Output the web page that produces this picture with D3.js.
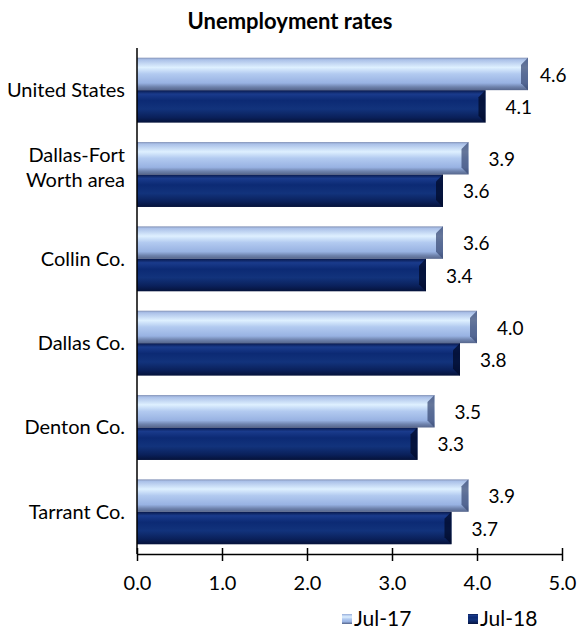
<!DOCTYPE html>
<html>
<head>
  <meta charset="utf-8">
  <title>Unemployment rates</title>
  <script src="https://cdn.jsdelivr.net/npm/d3@7"></script>
  <style>
    body { margin: 0; background: #fff; }
    text { font-family: Lato, "Open Sans", sans-serif; fill: #000; }
  </style>
</head>
<body>
  <div id="chart"></div>
  <script>
    const categories = [["United States"], ["Dallas-Fort", "Worth area"], ["Collin Co."], ["Dallas Co."], ["Denton Co."], ["Tarrant Co."]]
    const seriesNames = ["Jul-17", "Jul-18"]
    const jul17 = [4.6, 3.9, 3.6, 4.0, 3.5, 3.9]
    const jul18 = [4.1, 3.6, 3.4, 3.8, 3.3, 3.7]
    const xTicks = [0, 1, 2, 3, 4, 5]

    const width = 578
    const height = 630

    const svg = d3.select("#chart").append("svg")
      .attr("width", width)
      .attr("height", height)

    // gradients for the bevelled bars
    const defs = svg.append("defs")
    function addGrad(id, stops) {
      const g = defs.append("linearGradient").attr("id", id)
        .attr("x1", 0).attr("y1", 0).attr("x2", 0).attr("y2", 1)
      stops.forEach(s => g.append("stop").attr("offset", s[0]).attr("stop-color", s[1]))
    }
    addGrad("g17", [[0, "#8392b6"], [0.06, "#aac0e8"], [0.3, "#def0ff"], [0.5, "#b2caf0"], [0.78, "#98b2e2"], [0.9, "#6e82ac"], [1, "#56668c"]])
    addGrad("g18", [[0, "#08194c"], [0.12, "#1a3b8c"], [0.32, "#0c2a74"], [0.58, "#12337c"], [0.84, "#0a205a"], [1, "#05123a"]])

    const data = categories.map((c, i) => ({ i: i, label: c, values: [jul17[i], jul18[i]] }))

    const x = d3.scaleLinear().domain([0, 5]).range([137, 562])
    const y = d3.scaleBand().domain(d3.range(categories.length)).range([48, 554])
      .paddingInner(0.23).paddingOuter(0.115)
    const y1 = d3.scaleBand().domain(seriesNames).range([0, y.bandwidth()])
    const fills = { "Jul-17": "url(#g17)", "Jul-18": "url(#g18)" }
    const capColor = { "Jul-17": "#3c4e78", "Jul-18": "#020b2a" }

    // title
    svg.append("text")
      .attr("x", 290).attr("y", 29)
      .attr("text-anchor", "middle")
      .attr("font-size", 22)
      .attr("font-weight", "bold")
      .text("Unemployment rates")

    // bars
    const group = svg.append("g").selectAll("g")
      .data(data)
      .join("g")
      .attr("transform", d => `translate(0,${y(d.i)})`)

    const bars = group.selectAll("g.bar")
      .data(d => d.values.map((v, k) => ({ key: seriesNames[k], value: v })))
      .join("g").attr("class", "bar")

    bars.append("rect")
      .attr("x", x(0))
      .attr("y", d => y1(d.key))
      .attr("width", d => x(d.value) - x(0))
      .attr("height", y1.bandwidth())
      .attr("fill", d => fills[d.key])

    // bevel at the right end of each bar
    const bev = 7
    bars.append("polygon")
      .attr("points", d => {
        const x1 = x(d.value), t = y1(d.key), b = t + y1.bandwidth()
        return `${x1 - bev},${t + bev} ${x1},${t} ${x1},${b} ${x1 - bev},${b - bev}`
      })
      .attr("fill", d => capColor[d.key])
      .attr("opacity", 0.75)

    // value labels
    group.selectAll("text.val")
      .data(d => d.values.map((v, k) => ({ key: seriesNames[k], value: v })))
      .join("text").attr("class", "val")
      .attr("x", d => Math.min(x(d.value) + 20, 540))
      .attr("y", d => y1(d.key) + y1.bandwidth() / 2 + 1)
      .attr("dy", "0.35em")
      .attr("font-size", 19)
      .text(d => d3.format(".1f")(d.value))

    // category labels
    group.append("text")
      .attr("text-anchor", "end")
      .attr("font-size", 20)
      .attr("y", d => y.bandwidth() / 2 - (d.label.length - 1) * 12.5 - (d.label.length > 1 ? 7 : 0))
      .selectAll("tspan")
      .data(d => d.label)
      .join("tspan")
      .attr("x", 125)
      .attr("dy", (d, k) => k === 0 ? "0.35em" : 25)
      .text(d => d)

    // y axis line
    svg.append("line")
      .attr("x1", x(0)).attr("x2", x(0))
      .attr("y1", 48).attr("y2", 554)
      .attr("stroke", "#000").attr("stroke-width", 1.5)

    // x axis
    const xAxis = svg.append("g")
      .attr("transform", "translate(0,554)")
      .call(d3.axisBottom(x).tickValues(xTicks).tickFormat(d3.format(".1f")).tickSizeInner(7).tickSizeOuter(0).tickPadding(15))
    xAxis.select(".domain").attr("stroke", "#000").attr("stroke-width", 1.5)
    xAxis.selectAll(".tick line").attr("y1", -6).attr("stroke", "#000").attr("stroke-width", 1.5)
    xAxis.selectAll(".tick text").attr("font-size", 20).attr("font-family", "Lato, sans-serif").attr("fill", "#000")

    // legend
    const legendX = [342, 468]
    const legend = svg.append("g").selectAll("g")
      .data(seriesNames)
      .join("g")
      .attr("transform", (d, i) => `translate(${legendX[i]},614)`)
    legend.append("rect")
      .attr("width", 10).attr("height", 10)
      .attr("fill", d => fills[d])
    legend.append("text")
      .attr("x", 12).attr("y", 5)
      .attr("dy", "0.35em")
      .attr("font-size", 21)
      .text(d => d)
  </script>
</body>
</html>
